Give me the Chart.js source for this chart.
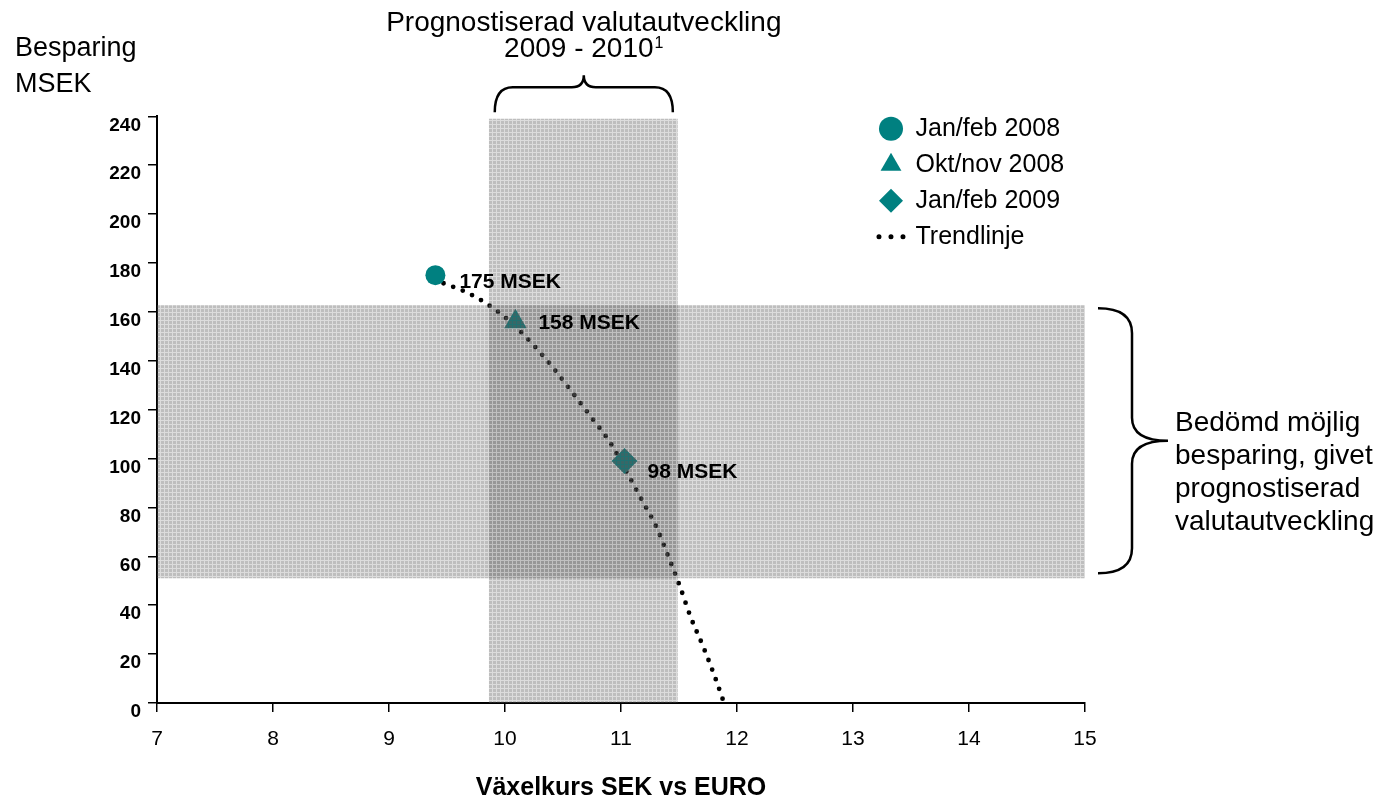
<!DOCTYPE html>
<html>
<head>
<meta charset="utf-8">
<script src="https://cdn.jsdelivr.net/npm/chart.js@4.4.1/dist/chart.umd.min.js"></script>
<style>
  html, body { margin: 0; padding: 0; background: #fff; }
  #wrap { width: 1390px; height: 802px; }
</style>
</head>
<body>
<div id="wrap"><canvas id="chart"></canvas></div>
<script>
const markerLabels = ["Jan/feb 2008", "Okt/nov 2008", "Jan/feb 2009"]
const markerX = [9.4, 10.09, 11.03]
const markerY = [175, 156, 99]
const pointLabels = ["175 MSEK", "158 MSEK", "98 MSEK"]

const trendLabel = "Trendlinje"
const trendX = [9.47, 9.65, 9.81, 10.03, 10.23, 10.41, 10.58, 10.75, 10.91, 11.05, 11.18, 11.31, 11.41, 11.51, 11.6, 11.71, 11.81, 11.9]
const trendY = [171.7, 168.4, 164.3, 156.6, 147.2, 137.4, 127.1, 116.5, 106.3, 94.4, 83, 71.5, 59.7, 47.4, 35.2, 22.9, 10.6, -1.6]

// shaded ranges
const forecastRangeX = [9.86, 11.49]
const forecastTop = 239
const savingRangeY = [51, 162.7]

const xRange = [7, 15]
const yRange = [0, 240]

const xTitle = "Växelkurs SEK vs EURO"
const yTitle = ["Besparing", "MSEK"]
const forecastTitle = ["Prognostiserad valutautveckling", "2009 - 2010", "1"]
const savingText = ["Bedömd möjlig", "besparing, givet", "prognostiserad", "valutautveckling"]

const family = '"Liberation Sans", Arial, Helvetica, sans-serif'
const teal = "#008080"
const markerStyles = ["circle", "triangle", "rectRot"]
const markerSizes = [10, 13, 13]
const labelShift = [[24, 7], [23, 2], [23, 11]]

Chart.defaults.font.family = family
Chart.defaults.color = "#000"

function hatch() {
  const tile = document.createElement("canvas")
  tile.width = 4
  tile.height = 4
  const t = tile.getContext("2d")
  t.fillStyle = "rgba(90,90,90,0.21)"
  t.fillRect(0, 0, 4, 4)
  t.fillStyle = "rgba(90,90,90,0.23)"
  t.fillRect(1, 1, 3, 3)
  return t.createPattern(tile, "repeat")
}

function brace(ctx, pts) {
  ctx.beginPath()
  ctx.moveTo(pts[0][0], pts[0][1])
  for (let i = 1; i < pts.length; i++) {
    const p = pts[i]
    if (p.length === 4) ctx.quadraticCurveTo(p[0], p[1], p[2], p[3])
    else ctx.lineTo(p[0], p[1])
  }
  ctx.stroke()
}

const notes = {
  id: "notes",
  afterLayout(chart) {
    const lg = chart.legend
    const h = lg.height
    lg.left = chart.chartArea.right - 217
    lg.top = chart.chartArea.top - 11
    lg.right = lg.left + lg.width
    lg.bottom = lg.top + h
  },
  afterDatasetsDraw(chart) {
    const { ctx, chartArea: area, scales } = chart
    const x = scales.x
    const y = scales.y
    ctx.save()
    ctx.fillStyle = "#000"
    ctx.strokeStyle = "#000"
    ctx.textBaseline = "middle"

    // value labels next to the markers
    ctx.font = "bold 21px " + family
    ctx.textAlign = "left"
    pointLabels.forEach((text, i) => {
      const pt = chart.getDatasetMeta(i).data[0]
      ctx.fillText(text, pt.x + labelShift[i][0], pt.y + labelShift[i][1])
    })

    // brace over the forecast range
    ctx.lineWidth = 2.5
    const x1 = x.getPixelForValue(forecastRangeX[0]) + 6
    const x2 = x.getPixelForValue(forecastRangeX[1]) - 5
    const cx = (x1 + x2) / 2
    const yEnd = area.top - 4
    const yMid = area.top - 29
    const yTip = area.top - 41
    brace(ctx, [
      [x1, yEnd], [x1, yMid, x1 + 18, yMid], [cx - 12, yMid], [cx, yMid, cx, yTip],
      [cx, yMid, cx + 12, yMid], [x2 - 18, yMid], [x2, yMid, x2, yEnd],
    ])

    ctx.textAlign = "center"
    ctx.font = "28px " + family
    ctx.fillText(forecastTitle[0], cx, area.top - 93)
    const w1 = ctx.measureText(forecastTitle[1]).width
    ctx.font = "16px " + family
    const w2 = ctx.measureText(forecastTitle[2]).width
    const start = cx - (w1 + w2 + 1) / 2
    ctx.textAlign = "left"
    ctx.font = "28px " + family
    ctx.fillText(forecastTitle[1], start, area.top - 67)
    ctx.font = "16px " + family
    ctx.fillText(forecastTitle[2], start + w1 + 1, area.top - 73)

    // brace beside the saving range
    const y1 = y.getPixelForValue(savingRangeY[1]) + 3
    const y2 = y.getPixelForValue(savingRangeY[0]) - 5
    const cy = (y1 + y2) / 2
    const xEnd = area.right + 13
    const xMid = area.right + 47
    const xTip = area.right + 83
    brace(ctx, [
      [xEnd, y1], [xMid, y1, xMid, y1 + 25], [xMid, cy - 23], [xMid, cy, xTip, cy],
      [xMid, cy, xMid, cy + 23], [xMid, y2 - 25], [xMid, y2, xEnd, y2],
    ])

    ctx.font = "28px " + family
    savingText.forEach((line, i) => {
      ctx.fillText(line, area.right + 90, cy - 18 + i * 33)
    })
    ctx.restore()
  },
}

const datasets = markerLabels.map((label, i) => ({
  label: label,
  data: [{ x: markerX[i], y: markerY[i] }],
  pointStyle: markerStyles[i],
  pointRadius: markerSizes[i],
  pointHoverRadius: markerSizes[i],
  backgroundColor: teal,
  borderColor: teal,
  pointBorderWidth: 0,
  order: 2,
}))

datasets.push({
  label: trendLabel,
  data: trendX.map((v, i) => ({ x: v, y: trendY[i] })),
  showLine: true,
  borderColor: "#000",
  borderWidth: 4.8,
  borderDash: [0, 10.3],
  borderCapStyle: "round",
  cubicInterpolationMode: "monotone",
  pointRadius: 0,
  pointStyle: "line",
  pointBorderColor: "#000",
  pointBorderWidth: 5,
  order: 3,
})

datasets.push({
  data: [{ x: forecastRangeX[0], y: forecastTop }, { x: forecastRangeX[1], y: forecastTop }],
  showLine: true,
  fill: "origin",
  backgroundColor: hatch(),
  borderColor: "transparent",
  borderWidth: 0,
  pointRadius: 0,
  order: 1,
})

datasets.push({
  data: [{ x: xRange[0], y: savingRangeY[1] }, { x: xRange[1], y: savingRangeY[1] }],
  showLine: true,
  fill: { value: savingRangeY[0] },
  backgroundColor: hatch(),
  borderColor: "transparent",
  borderWidth: 0,
  pointRadius: 0,
  order: 1,
})

new Chart(document.getElementById("chart"), {
  type: "scatter",
  data: { datasets: datasets },
  plugins: [notes],
  options: {
    responsive: true,
    maintainAspectRatio: false,
    devicePixelRatio: 1,
    animation: false,
    events: [],
    layout: { padding: { left: 15, right: 305, top: 0, bottom: 0 } },
    scales: {
      x: {
        type: "linear",
        min: xRange[0],
        max: xRange[1],
        afterFit: (scale) => { scale.height = 99 },
        ticks: { stepSize: 1, padding: 15, font: { size: 21 }, color: "#000" },
        grid: { drawOnChartArea: false, drawTicks: true, tickLength: 9, color: "#000", lineWidth: 1.5 },
        border: { color: "#000", width: 2 },
        title: {
          display: true,
          text: xTitle,
          color: "#000",
          font: { size: 25, weight: "bold", lineHeight: 1.1 },
          padding: { top: 0, bottom: 0 },
        },
      },
      y: {
        min: yRange[0],
        max: yRange[1],
        afterFit: (scale) => { scale.width = 142 },
        ticks: { stepSize: 20, padding: 7, labelOffset: 9, font: { size: 19, weight: "bold" }, color: "#000" },
        grid: { drawOnChartArea: false, drawTicks: true, tickLength: 9, color: "#000", lineWidth: 1.5 },
        border: { color: "#000", width: 2 },
      },
    },
    plugins: {
      title: {
        display: true,
        text: yTitle,
        align: "start",
        color: "#000",
        font: { size: 27, weight: "normal", lineHeight: 1.32 },
        padding: { top: 31, bottom: 14 },
      },
      legend: {
        position: "chartArea",
        align: "start",
        labels: {
          usePointStyle: true,
          boxWidth: 24,
          boxHeight: 17,
          padding: 11,
          color: "#000",
          font: { size: 25 },
          filter: (item) => !!item.text,
          generateLabels: (chart) => {
            const items = Chart.defaults.plugins.legend.labels.generateLabels(chart)
            items.forEach((item) => {
              if (item.text === trendLabel) {
                item.pointStyle = "line"
                item.lineDash = [0, 12]
                item.lineCap = "round"
                item.lineWidth = 5
                item.strokeStyle = "#000"
              }
            })
            return items
          },
        },
      },
      tooltip: { enabled: false },
    },
  },
})
</script>
</body>
</html>
